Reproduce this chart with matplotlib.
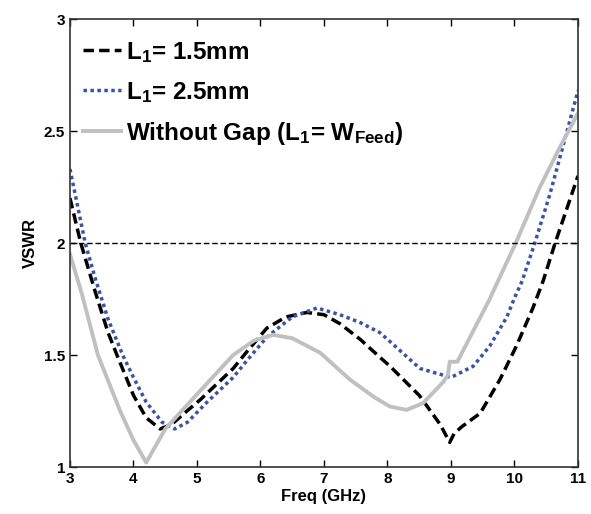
import matplotlib
matplotlib.use("Agg")
import numpy as np
import matplotlib.pyplot as plt

plt.rcParams['font.family'] = ['Liberation Sans', 'DejaVu Sans']
plt.rcParams['mathtext.fontset'] = 'custom'
plt.rcParams['mathtext.bf'] = 'Liberation Sans:bold'
plt.rcParams['mathtext.rm'] = 'Liberation Sans:bold'
plt.rcParams['mathtext.default'] = 'bf'

# L1 = 1.5 mm
f_15 = [3.0, 3.17, 3.4, 3.6, 3.74, 4.0, 4.2, 4.42, 4.6, 4.8, 5.05, 5.57, 5.8, 6.1, 6.4, 6.73,
        7.0, 7.25, 7.57, 7.88, 8.04, 8.5, 8.83, 8.98, 9.05, 9.17, 9.46, 9.77, 10.03,
        10.29, 10.45, 10.64, 11.0]
v_15 = [2.20, 2.00, 1.78, 1.60, 1.50, 1.32, 1.22, 1.17, 1.19, 1.24, 1.30, 1.44, 1.52, 1.62, 1.67, 1.69,
        1.68, 1.64, 1.57, 1.49, 1.45, 1.32, 1.19, 1.11, 1.15, 1.18, 1.24, 1.39, 1.54,
        1.71, 1.83, 2.00, 2.30]

# L1 = 2.5 mm
f_25 = [3.0, 3.24, 3.4, 3.6, 3.83, 4.0, 4.2, 4.45, 4.65, 4.85, 5.16, 5.57, 5.8, 6.1, 6.5, 6.89,
        7.25, 7.57, 7.88, 8.04, 8.51, 9.0, 9.35, 9.61, 9.88, 10.0, 10.12, 10.32, 10.56, 11.0]
v_25 = [2.33, 2.00, 1.84, 1.66, 1.50, 1.40, 1.29, 1.20, 1.17, 1.20, 1.29, 1.40, 1.48, 1.58, 1.67, 1.71,
        1.68, 1.645, 1.60, 1.56, 1.44, 1.40, 1.45, 1.54, 1.67, 1.755, 1.83, 2.00, 2.22, 2.68]

# without gap
f_ng = [3.0, 3.19, 3.44, 3.79, 4.0, 4.2, 4.5, 5.05, 5.57, 5.9, 6.2, 6.5, 6.94, 7.41, 7.8,
        8.04, 8.3, 8.56, 8.88, 8.95, 8.98, 9.1, 9.61, 9.74, 10.02, 10.4, 10.72, 11.0]
v_ng = [1.95, 1.77, 1.50, 1.25, 1.12, 1.02, 1.17, 1.34, 1.50, 1.565, 1.59, 1.575, 1.51, 1.39, 1.31,
        1.27, 1.255, 1.285, 1.38, 1.41, 1.47, 1.47, 1.75, 1.83, 2.00, 2.25, 2.43, 2.58]

fig = plt.figure(figsize=(5.91, 5.14), dpi=100)
ax = fig.add_axes([0.1184, 0.0914, 0.8596, 0.8716])

ax.plot(f_15, v_15, color='black', linestyle=(0, (3, 1.5)), linewidth=2.5,
        label=r'L$_1$= 1.5mm')
ax.plot(f_25, v_25, color='#3a53a4', linestyle=(0, (1, 1)), linewidth=2.5,
        label=r'L$_1$= 2.5mm')
ax.plot(f_ng, v_ng, color='#c0c0c0', linewidth=2.8,
        label=r'Without Gap (L$_1$= W$_{Feed}$)')
ax.axhline(2, color='black', linewidth=1.0, linestyle=(0, (4, 2)))

ax.set_xlim(3, 11)
ax.set_ylim(1, 3)
ax.set_xticks(range(3, 12))
ax.set_yticks([1, 1.5, 2, 2.5, 3])
ax.set_yticklabels(['1', '1.5', '2', '2.5', '3'])
ax.tick_params(direction='in', top=True, right=True, labelsize=11, length=5, width=1)
for lab in ax.get_xticklabels() + ax.get_yticklabels():
    lab.set_fontweight('bold')
for sp in ax.spines.values():
    sp.set_color('#333333')
    sp.set_linewidth(1.2)

ax.set_xlabel('Freq (GHz)', fontsize=12, fontweight='bold', labelpad=2)
ax.set_ylabel('VSWR', fontsize=12, fontweight='bold', labelpad=4)

leg = ax.legend(loc='upper left', bbox_to_anchor=(-0.012, 0.997), frameon=False,
                handlelength=1.55, handletextpad=0.22, labelspacing=0.62,
                borderaxespad=0.4, prop={'weight': 'bold', 'size': 17.5})

fig.savefig('out.png', dpi=100)
